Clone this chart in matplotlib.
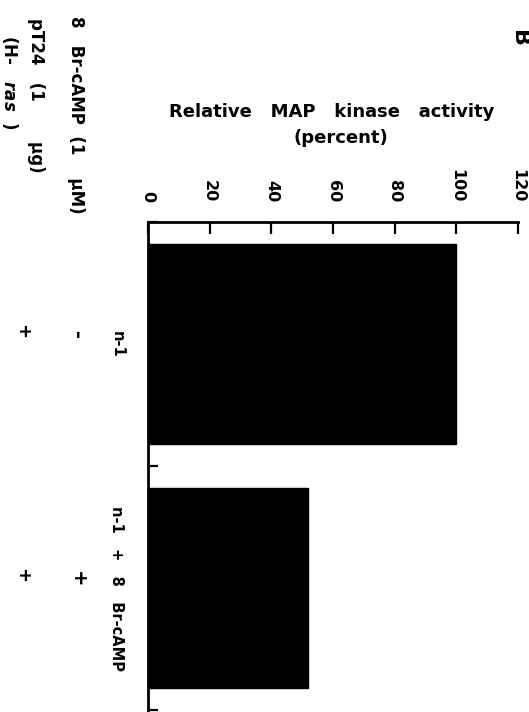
import matplotlib
matplotlib.use("Agg")
import matplotlib.pyplot as plt
import matplotlib.transforms as mtransforms

plt.rcParams['font.family'] = ['DejaVu Sans']
plt.rcParams['font.weight'] = 'bold'

# ---- data ----
categories = ["n-1", "n-1   +   8   Br-cAMP"]
activity = [100, 52]
br_camp_signs = ["-", "+"]
pt24_signs = ["+", "+"]
xticks = [0, 20, 40, 60, 80, 100, 120]

W, H = 529, 712
fig = plt.figure(figsize=(W / 100, H / 100), dpi=100)

def fx(x):
    return x / W

def fy(y):
    return 1 - y / H

ax = fig.add_axes([fx(148), 0.0, 370 / W, (H - 222) / H])

ypos = list(range(len(categories)))
ax.barh(ypos, activity, height=0.82, color='black', edgecolor='black')

ax.set_xlim(0, 120)
ax.set_ylim(1.508, -0.5)

# value axis on top
ax.xaxis.tick_top()
ax.set_xticks(xticks)
ax.set_xticklabels([str(t) for t in xticks])
ax.tick_params(axis='x', top=True, bottom=False, labeltop=True, labelbottom=False,
               direction='in', length=8.6, width=1.6, pad=14, labelsize=11.5,
               labelrotation=270)
for lbl in ax.get_xticklabels():
    lbl.set_fontweight('bold')
    lbl.set_va('bottom')
    lbl.set_ha('center')

# category axis on the left
ax.set_yticks([-0.5, 0.5, 1.5])
ax.set_yticklabels([])
ax.set_yticks(ypos, minor=True)
ax.set_yticklabels(categories, minor=True)
ax.tick_params(axis='y', which='major', direction='in', length=7, width=1.6)
ax.tick_params(axis='y', which='minor', length=0, pad=17, labelsize=10.5,
               labelrotation=270)
for lbl in ax.get_yticklabels(minor=True):
    lbl.set_fontweight('bold')
    lbl.set_va('center')
    lbl.set_ha('right')

for s in ['right', 'bottom']:
    ax.spines[s].set_visible(False)
for s in ['top', 'left']:
    ax.spines[s].set_linewidth(2.0)

# axis title
fig.text(fx(332), fy(112), "Relative   MAP   kinase   activity", ha='center',
         va='center', fontsize=13, fontweight='bold')
fig.text(fx(341), fy(138), "(percent)", ha='center', va='center',
         fontsize=13, fontweight='bold')

# panel letter
fig.text(fx(519), fy(38), "B", ha='center', va='center', fontsize=16,
         fontweight='bold', rotation=270)

# condition table
fig.text(fx(76), fy(115), "8   Br-cAMP  (1    µM)", ha='center', va='center',
         fontsize=12, fontweight='bold', rotation=270)
fig.text(fx(36), fy(95), "pT24   (1       µg)", ha='center', va='center',
         fontsize=12, fontweight='bold', rotation=270)
fig.text(fx(10), fy(82), r"(H-   $\mathbfit{ras}$  )", ha='center', va='center',
         fontsize=12, fontweight='bold', rotation=270)

trans1 = mtransforms.blended_transform_factory(fig.transFigure, ax.transData)
for i, s in enumerate(br_camp_signs):
    ax.text(fx(77), i - 0.035, s, transform=trans1, ha='center', va='center',
            fontsize=14, fontweight='bold', rotation=270, clip_on=False)
for i, s in enumerate(pt24_signs):
    ax.text(fx(22), i - 0.05, s, transform=trans1, ha='center', va='center',
            fontsize=13, fontweight='bold', rotation=270, clip_on=False)

fig.savefig("out.png", dpi=100)
